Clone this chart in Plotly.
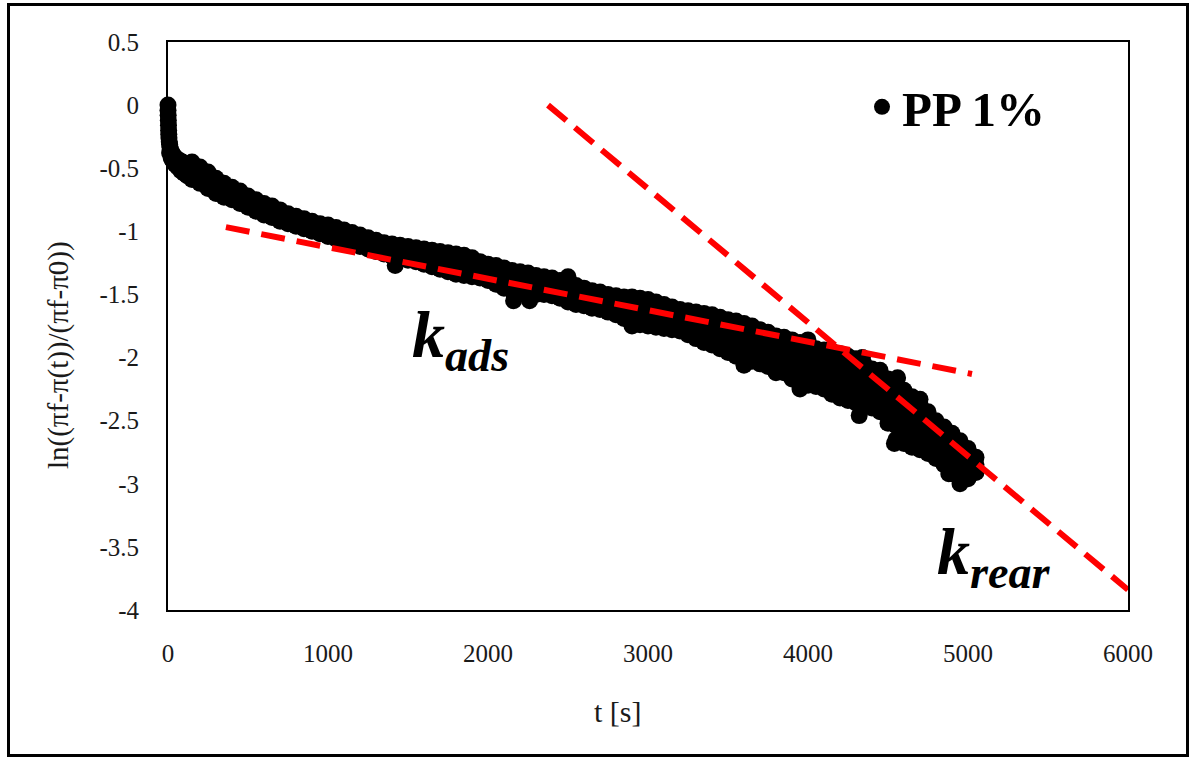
import plotly.graph_objects as go

# ---------------- data ----------------
t_early = [0, 0, 1, 2, 3, 4, 5, 6, 8, 10, 12, 15, 20, 25, 30, 40, 50, 60, 75, 90, 110, 130,
           10, 20, 30, 45, 60, 80, 100, 120]
y_early = [0.0, -0.04, -0.08, -0.12, -0.16, -0.20, -0.23, -0.26, -0.29, -0.31, -0.33, -0.35,
           -0.37, -0.38, -0.39, -0.41, -0.42, -0.43, -0.44, -0.45, -0.47, -0.49,
           -0.38, -0.42, -0.44, -0.47, -0.49, -0.52, -0.54, -0.56]

t_band = [150, 200, 250, 300, 350, 400, 450, 500, 550, 600,
          650, 700, 750, 800, 850, 900, 950, 1000, 1050, 1100,
          1150, 1200, 1250, 1300, 1350, 1400, 1450, 1500, 1550, 1600,
          1650, 1700, 1750, 1800, 1850, 1900, 1950, 2000, 2050, 2100,
          2150, 2200, 2250, 2300, 2350, 2400, 2450, 2500, 2550, 2600,
          2650, 2700, 2750, 2800, 2850, 2900, 2950, 3000, 3050, 3100,
          3150, 3200, 3250, 3300, 3350, 3400, 3450, 3500, 3550, 3600,
          3650, 3700, 3750, 3800, 3850, 3900, 3950, 4000, 4050, 4100,
          4150, 4200, 4250, 4300, 4350, 4400, 4450, 4500, 4550, 4600,
          4650, 4700, 4750, 4800, 4850, 4900, 4950, 5000, 5050]
y_upper = [-0.45, -0.49, -0.53, -0.58, -0.62, -0.65, -0.68, -0.72, -0.75, -0.78,
           -0.80, -0.83, -0.86, -0.88, -0.90, -0.92, -0.94, -0.95, -0.97, -0.99,
           -1.01, -1.03, -1.05, -1.07, -1.09, -1.10, -1.11, -1.12, -1.13, -1.14,
           -1.15, -1.16, -1.17, -1.18, -1.19, -1.21, -1.24, -1.26, -1.27, -1.29,
           -1.31, -1.32, -1.33, -1.35, -1.36, -1.37, -1.39, -1.41, -1.43, -1.45,
           -1.47, -1.48, -1.50, -1.51, -1.52, -1.52, -1.53, -1.54, -1.56, -1.58,
           -1.60, -1.62, -1.63, -1.64, -1.65, -1.66, -1.68, -1.70, -1.71, -1.73,
           -1.75, -1.78, -1.80, -1.83, -1.84, -1.86, -1.88, -1.90, -1.93, -1.94,
           -1.95, -1.97, -1.99, -2.01, -2.05, -2.09, -2.14, -2.17, -2.21, -2.26,
           -2.31, -2.37, -2.43, -2.50, -2.55, -2.60, -2.66, -2.72, -2.79]
y_mid = [-0.52, -0.56, -0.60, -0.64, -0.68, -0.70, -0.73, -0.77, -0.80, -0.83,
         -0.85, -0.88, -0.90, -0.92, -0.94, -0.96, -0.98, -1.00, -1.02, -1.04,
         -1.06, -1.08, -1.10, -1.12, -1.14, -1.15, -1.16, -1.18, -1.19, -1.20,
         -1.22, -1.23, -1.25, -1.26, -1.27, -1.29, -1.31, -1.33, -1.35, -1.37,
         -1.39, -1.40, -1.41, -1.43, -1.43, -1.44, -1.46, -1.49, -1.51, -1.52,
         -1.54, -1.55, -1.57, -1.59, -1.61, -1.62, -1.64, -1.65, -1.66, -1.68,
         -1.69, -1.71, -1.73, -1.75, -1.77, -1.78, -1.81, -1.83, -1.85, -1.87,
         -1.89, -1.92, -1.94, -1.96, -1.98, -2.02, -2.05, -2.06, -2.08, -2.10,
         -2.12, -2.15, -2.17, -2.19, -2.22, -2.25, -2.29, -2.35, -2.43, -2.47,
         -2.51, -2.55, -2.60, -2.65, -2.70, -2.76, -2.82, -2.84, -2.85]
y_lower = [-0.59, -0.62, -0.66, -0.70, -0.73, -0.75, -0.78, -0.81, -0.84, -0.87,
           -0.89, -0.92, -0.94, -0.96, -0.98, -1.00, -1.02, -1.04, -1.06, -1.08,
           -1.10, -1.12, -1.14, -1.16, -1.18, -1.20, -1.21, -1.23, -1.24, -1.26,
           -1.28, -1.30, -1.32, -1.34, -1.35, -1.36, -1.37, -1.39, -1.42, -1.45,
           -1.47, -1.48, -1.49, -1.50, -1.50, -1.51, -1.53, -1.56, -1.58, -1.59,
           -1.61, -1.62, -1.64, -1.66, -1.69, -1.71, -1.74, -1.75, -1.76, -1.77,
           -1.78, -1.79, -1.82, -1.85, -1.88, -1.90, -1.93, -1.96, -1.99, -2.01,
           -2.03, -2.05, -2.07, -2.09, -2.12, -2.17, -2.22, -2.22, -2.23, -2.25,
           -2.29, -2.32, -2.34, -2.36, -2.38, -2.40, -2.43, -2.52, -2.65, -2.68,
           -2.71, -2.73, -2.76, -2.80, -2.85, -2.92, -2.97, -2.96, -2.91]

t_tail = [3000, 3050, 3100, 3150, 3200, 3250, 3300, 3350, 3400, 3450, 3500, 3550,
          3600, 3650, 3700, 3750, 3800, 3850, 3900, 3950, 4000, 4050,
          4100, 4150, 4200, 4250, 4300, 4350, 4400, 4450, 4500, 4550,
          4600, 4650, 4700, 4750, 4800, 4850, 4900, 4950, 5000]
y_tail_a = [-1.60, -1.61, -1.63, -1.65, -1.67, -1.68, -1.70, -1.71, -1.72, -1.75, -1.77, -1.78,
            -1.80, -1.82, -1.85, -1.87, -1.90, -1.91, -1.94, -1.97, -1.98, -2.01,
            -2.02, -2.04, -2.06, -2.08, -2.10, -2.14, -2.17, -2.22, -2.26, -2.32,
            -2.37, -2.41, -2.46, -2.52, -2.58, -2.63, -2.68, -2.74, -2.78]
y_tail_b = [-1.70, -1.71, -1.73, -1.74, -1.75, -1.78, -1.80, -1.83, -1.84, -1.87, -1.90, -1.92,
            -1.94, -1.96, -1.99, -2.01, -2.03, -2.05, -2.10, -2.14, -2.14, -2.16,
            -2.18, -2.21, -2.24, -2.26, -2.28, -2.30, -2.33, -2.36, -2.44, -2.54,
            -2.58, -2.61, -2.64, -2.68, -2.73, -2.78, -2.84, -2.90, -2.90]

t_bump = [1420, 2160, 2260, 2500, 2900, 3600, 3950, 4000, 4340, 4320, 4540, 4560,
          4950, 4880, 4700, 4450, 3800]
y_bump = [-1.27, -1.55, -1.55, -1.36, -1.75, -2.06, -2.25, -1.86, -2.00, -2.46, -2.68, -2.16,
          -3.00, -2.92, -2.33, -2.10, -2.12]

kads_t = [362, 5025]
kads_y = [-0.967, -2.13]
krear_t = [2375, 6000]
krear_y = [0.0, -3.84]

x_ticks = [0, 1000, 2000, 3000, 4000, 5000, 6000]
x_tick_labels = ["0", "1000", "2000", "3000", "4000", "5000", "6000"]
y_ticks = [0.5, 0, -0.5, -1, -1.5, -2, -2.5, -3, -3.5, -4]
y_tick_labels = ["0.5", "0", "-0.5", "-1", "-1.5", "-2", "-2.5", "-3", "-3.5", "-4"]

series_name = "PP 1%"
x_title = "t [s]"
y_title = "ln((πf-π(t))/(πf-π0))"

# ---------------- figure ----------------
W, H = 1191, 758
ML, MR, MT, MB = 168, 63, 42, 148
PW, PH = W - ML - MR, H - MT - MB

def px_x(p):
    return (p - ML) / PW

def px_y(p):
    return (H - MB - p) / PH

all_t = t_early + t_band + t_band + t_band + t_tail + t_tail + t_bump
all_y = y_early + y_upper + y_mid + y_lower + y_tail_a + y_tail_b + y_bump

fig = go.Figure()
fig.add_trace(go.Scatter(
    x=all_t, y=all_y, mode="markers", name="<b>" + series_name + "</b>",
    marker=dict(color="black", size=17, line=dict(width=0)),
    cliponaxis=False, showlegend=True))
fig.add_trace(go.Scatter(
    x=kads_t, y=kads_y, mode="lines", showlegend=False,
    line=dict(color="#ff0000", width=6, dash="24px,12px")))
fig.add_trace(go.Scatter(
    x=krear_t, y=krear_y, mode="lines", showlegend=False,
    line=dict(color="#ff0000", width=6, dash="24px,11px")))

serif = "Liberation Serif"
text_col = "#1a1a1a"
axis_common = dict(showgrid=False, zeroline=False, showline=True, linecolor="black",
                   linewidth=2, mirror=True, ticks="outside", tickcolor="rgba(0,0,0,0)",
                   tickfont=dict(family=serif, size=25, color=text_col), automargin=False)

fig.update_xaxes(range=[0, 6000], tickvals=x_ticks, ticktext=x_tick_labels, ticklen=20,
                 **axis_common)
fig.update_yaxes(range=[-4, 0.5], tickvals=y_ticks, ticktext=y_tick_labels, ticklen=22,
                 **axis_common)

# axis titles
fig.add_annotation(x=px_x(618), y=px_y(711), xref="paper", yref="paper", showarrow=False,
                   text=x_title, font=dict(family=serif, size=30, color=text_col),
                   xanchor="center", yanchor="middle")
fig.add_annotation(x=px_x(58), y=px_y(355), xref="paper", yref="paper", showarrow=False,
                   text=y_title, textangle=-90, font=dict(family=serif, size=29, color=text_col),
                   xanchor="center", yanchor="middle")

ann_font = dict(family=serif, size=66, color="black")
fig.add_annotation(x=1830, y=-1.86, xref="x", yref="y", showarrow=False,
                   text="<b><i>k</i></b><sub><b><i>ads</i></b></sub>", font=ann_font)
fig.add_annotation(x=5165, y=-3.58, xref="x", yref="y", showarrow=False,
                   text="<b><i>k</i></b><sub><b><i>rear</i></b></sub>", font=ann_font)

fig.add_shape(type="rect", xref="paper", yref="paper",
              x0=px_x(8.5), x1=px_x(1187.5), y0=px_y(755.5), y1=px_y(4.5),
              line=dict(color="black", width=3), fillcolor="rgba(0,0,0,0)", layer="above")

fig.update_layout(
    width=W, height=H, margin=dict(l=ML, r=MR, t=MT, b=MB),
    paper_bgcolor="white", plot_bgcolor="white",
    legend=dict(x=px_x(862), y=px_y(107), xanchor="left", yanchor="middle",
                font=dict(family=serif, size=49, color="black"),
                bgcolor="rgba(0,0,0,0)", borderwidth=0),
    showlegend=True,
)

fig.write_html("out.html")
